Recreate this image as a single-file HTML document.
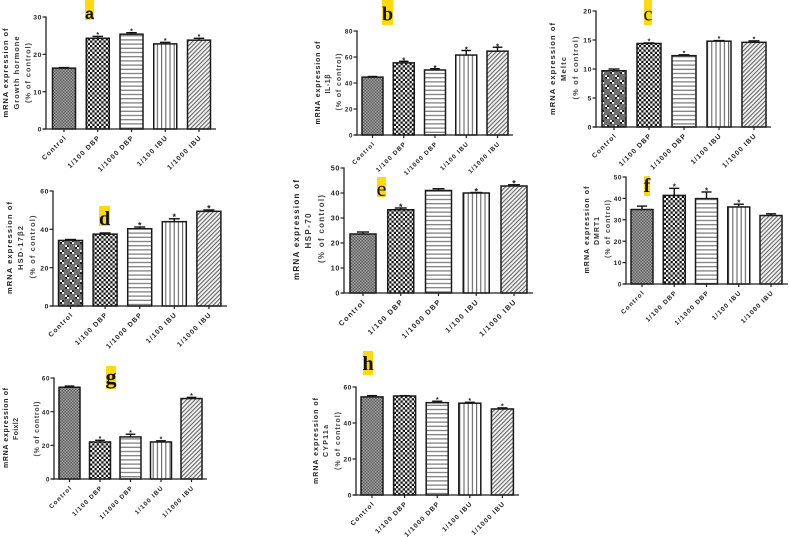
<!DOCTYPE html>
<html lang="en">
<head>
<meta charset="utf-8">
<title>mRNA expression bar charts</title>
<style>
html,body{margin:0;padding:0;background:#fff;width:789px;height:537px;overflow:hidden}
svg{display:block;filter:blur(0.3px)}
text{font-family:"Liberation Sans",sans-serif;fill:#222}
.t1{font-size:7.5px;font-weight:bold;text-anchor:middle}
.t2{font-size:7.5px;font-weight:bold;text-anchor:middle;fill:#333}
.t3{font-size:7.5px;font-weight:bold;text-anchor:middle;fill:#444}
.letter{font-family:"Liberation Serif",serif;fill:#111;text-anchor:middle;font-size:20px}
.highlight{fill:#ffd90f}
</style>
</head>
<body>
<svg id="chart" width="789" height="537" viewBox="0 0 789 537" xmlns="http://www.w3.org/2000/svg">
<defs>
<pattern id="pat-control" width="3" height="3" patternUnits="userSpaceOnUse">
<rect width="3" height="3" fill="#5f5f5f"/><rect width="1.5" height="1.5" fill="#a0a0a0"/><rect x="1.5" y="1.5" width="1.5" height="1.5" fill="#a0a0a0"/>
</pattern>
<pattern id="pat-control-coarse" width="10" height="10" patternUnits="userSpaceOnUse">
<rect width="10" height="10" fill="#6e6e6e"/>
<rect x="0" y="0" width="2" height="2" fill="#e8e8e8"/><rect x="2" y="0" width="2" height="2" fill="#222"/><rect x="0" y="2" width="2" height="2" fill="#222"/><rect x="2" y="2" width="2" height="2" fill="#e8e8e8"/>
<rect x="5" y="5" width="2" height="2" fill="#e8e8e8"/><rect x="7" y="5" width="2" height="2" fill="#222"/><rect x="5" y="7" width="2" height="2" fill="#222"/><rect x="7" y="7" width="2" height="2" fill="#e8e8e8"/>
</pattern>
<pattern id="pat-dbp100" width="4.5" height="4.5" patternUnits="userSpaceOnUse">
<rect width="4.5" height="4.5" fill="#f4f4f4"/><rect width="2.25" height="2.25" fill="#151515"/><rect x="2.25" y="2.25" width="2.25" height="2.25" fill="#151515"/>
</pattern>
<pattern id="pat-dbp1000" width="4.2" height="4.2" patternUnits="userSpaceOnUse">
<rect width="4.2" height="4.2" fill="#fff"/><rect y="1.5" width="4.2" height="1.2" fill="#777"/>
</pattern>
<pattern id="pat-ibu100" width="4.2" height="4.2" patternUnits="userSpaceOnUse">
<rect width="4.2" height="4.2" fill="#fff"/><rect x="1.5" width="1" height="4.2" fill="#555"/>
</pattern>
<pattern id="pat-ibu1000" width="3" height="3" patternUnits="userSpaceOnUse" patternTransform="rotate(-45)">
<rect width="3" height="3" fill="#f4f4f4"/><rect width="3" height="1.1" fill="#666"/>
</pattern>
</defs>

<g>
<rect class="highlight" x="85" y="0" width="9" height="20"/>
<text class="letter" x="89.5" y="19" style="font-family:'Liberation Sans',sans-serif;font-size:16px;font-weight:bold">a</text>
<rect class="highlight" x="382" y="0" width="11" height="25"/>
<text class="letter" x="387.5" y="20.5" style="font-weight:bold">b</text>
<rect class="highlight" x="644" y="0" width="8" height="25"/>
<text class="letter" x="648" y="20.5">c</text>
<rect class="highlight" x="99" y="206" width="11" height="20"/>
<text class="letter" x="104.5" y="225" style="font-weight:bold">d</text>
<rect class="highlight" x="377" y="177" width="9" height="20"/>
<text class="letter" x="381.5" y="196" style="font-size:22px">e</text>
<rect class="highlight" x="644" y="176" width="6" height="20"/>
<text class="letter" x="647" y="192" style="font-weight:bold">f</text>
<rect class="highlight" x="106" y="366" width="10" height="23"/>
<text class="letter" x="111" y="384" style="font-weight:bold;font-size:22px">g</text>
<rect class="highlight" x="363" y="351" width="10" height="24"/>
<text class="letter" x="368" y="370" style="font-weight:bold">h</text>
</g>

<g>
<text class="t1" transform="translate(8,73) rotate(-90)" textLength="89" lengthAdjust="spacing">mRNA expression of</text>
<text class="t2" transform="translate(19,73) rotate(-90)" textLength="73" lengthAdjust="spacing">Growth hormone</text>
<text class="t3" transform="translate(30.5,73) rotate(-90)" textLength="60" lengthAdjust="spacing">(% of control)</text>

<text class="t1" transform="translate(320,83) rotate(-90)" textLength="83" lengthAdjust="spacing" style="font-size:7px">mRNA expression of</text>
<text class="t2" transform="translate(330,84) rotate(-90)" textLength="19" lengthAdjust="spacing" style="font-size:7px">IL-1β</text>
<text class="t3" transform="translate(341,82) rotate(-90)" textLength="57" lengthAdjust="spacing" style="font-size:7px">(% of control)</text>

<text class="t1" transform="translate(555,69) rotate(-90)" textLength="92" lengthAdjust="spacing">mRNA expression of</text>
<text class="t2" transform="translate(566,69) rotate(-90)" textLength="24" lengthAdjust="spacing">Meltc</text>
<text class="t3" transform="translate(578,68) rotate(-90)" textLength="63" lengthAdjust="spacing">(% of control)</text>

<text class="t1" transform="translate(12,248) rotate(-90)" textLength="92" lengthAdjust="spacing">mRNA expression of</text>
<text class="t2" transform="translate(23,248) rotate(-90)" textLength="44" lengthAdjust="spacing">HSD-17β2</text>
<text class="t3" transform="translate(35,247) rotate(-90)" textLength="63" lengthAdjust="spacing">(% of control)</text>

<text class="t1" transform="translate(299,230) rotate(-90)" textLength="100" lengthAdjust="spacing" style="font-size:8px">mRNA expression of</text>
<text class="t2" transform="translate(311,231) rotate(-90)" textLength="35" lengthAdjust="spacing" style="font-size:8px">HSP-70</text>
<text class="t3" transform="translate(324,229) rotate(-90)" textLength="68" lengthAdjust="spacing" style="font-size:8px">(% of control)</text>

<text class="t1" transform="translate(589,230) rotate(-90)" textLength="87" lengthAdjust="spacing" style="font-size:7px">mRNA expression of</text>
<text class="t2" transform="translate(599,231) rotate(-90)" textLength="28" lengthAdjust="spacing" style="font-size:7px">DMRT1</text>
<text class="t3" transform="translate(610,229) rotate(-90)" textLength="58" lengthAdjust="spacing" style="font-size:7px">(% of control)</text>

<text class="t1" transform="translate(8,428) rotate(-90)" textLength="80" lengthAdjust="spacing" style="font-size:7px">mRNA expression of</text>
<text class="t2" transform="translate(18,429) rotate(-90)" textLength="22" lengthAdjust="spacing" style="font-size:7px">Foixl2</text>
<text class="t3" transform="translate(39,429) rotate(-90)" textLength="55" lengthAdjust="spacing" style="font-size:7px">(% of control)</text>

<text class="t1" transform="translate(318,441) rotate(-90)" textLength="86" lengthAdjust="spacing" style="font-size:7px">mRNA expression of</text>
<text class="t2" transform="translate(328,441) rotate(-90)" textLength="32" lengthAdjust="spacing" style="font-size:7px">CYP11a</text>
<text class="t3" transform="translate(340,441) rotate(-90)" textLength="58" lengthAdjust="spacing" style="font-size:7px">(% of control)</text>
</g>
</svg>

<script>
var categories = ["Control", "1/100 DBP", "1/1000 DBP", "1/100 IBU", "1/1000 IBU"];

var valuesA = [16.3, 24.3, 25.4, 22.8, 23.8];
var errorsA = [0.15, 0.5, 0.4, 0.4, 0.5];
var starsA = [0, 1, 1, 1, 1];
var ticksA = [0, 10, 20, 30];

var valuesB = [44.5, 55.5, 50, 61.5, 64.5];
var errorsB = [0.5, 1.2, 1, 3.5, 3];
var starsB = [0, 1, 1, 1, 1];
var ticksB = [0, 20, 40, 60, 80];

var valuesC = [9.7, 14.4, 12.3, 14.8, 14.6];
var errorsC = [0.3, 0.1, 0.15, 0.1, 0.25];
var starsC = [0, 1, 1, 1, 1];
var ticksC = [0, 5, 10, 15, 20];

var valuesD = [34.2, 37.5, 40.3, 44, 49.4];
var errorsD = [0.5, 0.6, 0.9, 1.5, 0.7];
var starsD = [0, 0, 1, 1, 1];
var ticksD = [0, 20, 40, 60];

var valuesE = [23.6, 33.3, 41, 40, 42.8];
var errorsE = [0.8, 0.7, 0.7, 0.2, 0.5];
var starsE = [0, 1, 0, 1, 1];
var ticksE = [0, 10, 20, 30, 40, 50];

var valuesF = [34.8, 41.4, 39.9, 36, 32];
var errorsF = [1.6, 3.3, 3.1, 1.3, 0.8];
var starsF = [0, 1, 1, 1, 0];
var ticksF = [0, 10, 20, 30, 40, 50];

var valuesG = [54.5, 22, 25, 22, 47.8];
var errorsG = [0.7, 1, 1.6, 0.7, 0.7];
var starsG = [0, 1, 1, 1, 1];
var ticksG = [0, 20, 40, 60];

var valuesH = [54.5, 55, 51.3, 51, 47.8];
var errorsH = [0.7, 0.2, 0.8, 0.5, 0.6];
var starsH = [0, 0, 1, 1, 1];
var ticksH = [0, 20, 40, 60];

var patternIds = ["pat-control", "pat-dbp100", "pat-dbp1000", "pat-ibu100", "pat-ibu1000"];
var NS = "http://www.w3.org/2000/svg";
var root = document.getElementById("chart");

function make(parent, tag, attrs, txt) {
  var node = document.createElementNS(NS, tag);
  for (var k in attrs) node.setAttribute(k, attrs[k]);
  if (txt !== undefined) node.textContent = txt;
  parent.appendChild(node);
  return node;
}

function drawPanel(p, values, errors, stars, ticks) {
  var yMax = ticks[ticks.length - 1];
  function yScale(v) { return p.y0 - (v / yMax) * (p.y0 - p.yTop); }
  function xScale(i) { return p.x0 + p.first + i * p.step; }

  var g = make(root, "g", {});
  
  

  values.forEach(function (v, i) {
    var cx = xScale(i), top = yScale(v), errTop = yScale(v + errors[i]);
    var cap = p.barW * 0.46;
    var fillId = (i === 0 && p.coarse) ? "pat-control-coarse" : patternIds[i];

    var whisker = make(g, "line", { x1: cx, x2: cx, y1: top, y2: errTop, stroke: "#111", "stroke-width": 1.4 });
    
    

    var capLine = make(g, "line", { x1: cx - cap / 2, x2: cx + cap / 2, y1: errTop, y2: errTop, stroke: "#111", "stroke-width": 1.4 });
    
    

    var bar = make(g, "rect", { x: cx - p.barW / 2, y: top, width: p.barW, height: p.y0 - top, fill: "url(#" + fillId + ")", stroke: "#1a1a1a", "stroke-width": 1.5 });
    
    

    if (stars[i]) {
      var star = make(g, "text", { x: cx, y: errTop - p.starGap + 0.55 * p.starFs, "text-anchor": "middle", "font-size": p.starFs, "font-weight": "bold" }, "*");
      
      
    }

    var xTick = make(g, "line", { x1: cx, x2: cx, y1: p.y0, y2: p.y0 + 3, stroke: "#222", "stroke-width": 1.2 });
    
    

    var lx = cx + 3, ly = p.y0 + 9;
    var label = make(g, "text", { x: lx, y: ly, "text-anchor": "end", "font-size": p.fs, "font-weight": "bold", "letter-spacing": p.ls, transform: "rotate(-45 " + lx + " " + ly + ")" }, categories[i]);
    
    
  });

  var yAxis = make(g, "line", { x1: p.x0, x2: p.x0, y1: p.yTop - 0.6, y2: p.y0 + 0.6, stroke: "#222", "stroke-width": 1.3 });
  
  

  var xAxis = make(g, "line", { x1: p.x0 - 3, x2: p.xEnd, y1: p.y0, y2: p.y0, stroke: "#222", "stroke-width": 1.3 });
  
  

  ticks.forEach(function (t, i) {
    var ty = yScale(t);
    var tick = make(g, "line", { x1: p.x0 - 3.5, x2: p.x0, y1: ty, y2: ty, stroke: "#222", "stroke-width": 1.2 });
    
    

    var tl = make(g, "text", { x: p.x0 - 4, y: ty + 2.6, "text-anchor": "end", "font-size": p.fs, "font-weight": "bold", "letter-spacing": 0.6 }, t);
    
    
  });
}

drawPanel({ id: "a", x0: 46, y0: 129, yTop: 17, xEnd: 216, first: 18, step: 33.75, barW: 23, fs: 6.8, ls: 1.1, starFs: 7, starGap: 3.2 }, valuesA, errorsA, starsA, ticksA);
drawPanel({ id: "b", x0: 357, y0: 135, yTop: 31, xEnd: 513, first: 15.5, step: 31.25, barW: 21, fs: 6.2, ls: 1.1, starFs: 8, starGap: 2.2 }, valuesB, errorsB, starsB, ticksB);
drawPanel({ id: "c", x0: 596, y0: 127, yTop: 11, xEnd: 771, first: 18, step: 35, barW: 24, fs: 6.8, ls: 1.1, starFs: 7, starGap: 3.2, coarse: true }, valuesC, errorsC, starsC, ticksC);
drawPanel({ id: "d", x0: 53, y0: 306, yTop: 191, xEnd: 227, first: 17.5, step: 34.6, barW: 24, fs: 6.8, ls: 1.1, starFs: 9, starGap: 3.6, coarse: true }, valuesD, errorsD, starsD, ticksD);
drawPanel({ id: "e", x0: 344, y0: 293, yTop: 168, xEnd: 533, first: 19, step: 37.75, barW: 26, fs: 7.2, ls: 1.3, starFs: 9, starGap: 3.2 }, valuesE, errorsE, starsE, ticksE);
drawPanel({ id: "f", x0: 626, y0: 284, yTop: 177, xEnd: 788, first: 16, step: 32.25, barW: 22, fs: 6.4, ls: 1.1, starFs: 8, starGap: 3 }, valuesF, errorsF, starsF, ticksF);
drawPanel({ id: "g", x0: 54, y0: 479, yTop: 378, xEnd: 207, first: 15.5, step: 30.5, barW: 21, fs: 6.2, ls: 1.1, starFs: 7, starGap: 3.2 }, valuesG, errorsG, starsG, ticksG);
drawPanel({ id: "h", x0: 356, y0: 495, yTop: 387, xEnd: 519, first: 16, step: 32.6, barW: 22, fs: 6.6, ls: 1.1, starFs: 7, starGap: 3.2 }, valuesH, errorsH, starsH, ticksH);
</script>
</body>
</html>
